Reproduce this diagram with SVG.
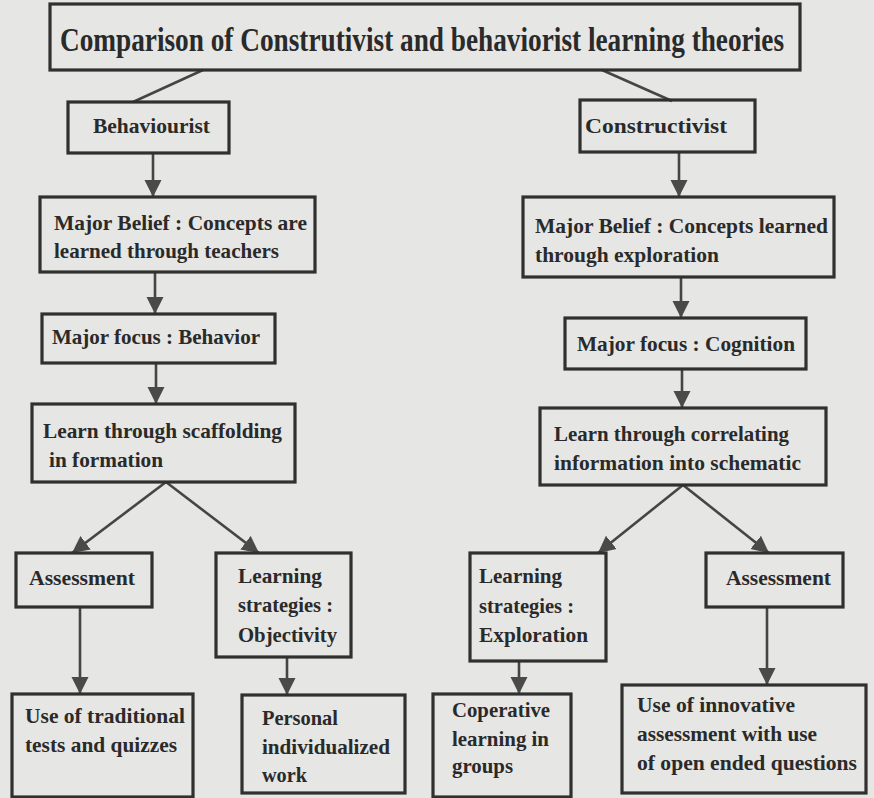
<svg xmlns="http://www.w3.org/2000/svg" width="874" height="798" viewBox="0 0 874 798">
<defs>
<marker id="ah" markerUnits="userSpaceOnUse" markerWidth="18" markerHeight="18" viewBox="0 0 18 18" refX="17" refY="9" orient="auto">
<path d="M0,0.5 L17,9 L0,17.5 Z" fill="#4a4a4a"/>
</marker>
<style>
.bg{fill:#e6e6e4}
.box{fill:none;stroke:#303030;stroke-width:3.2}
.c{fill:none;stroke:#454545;stroke-width:2.6}
.t{font-family:'Liberation Serif',serif;font-size:21px;font-weight:bold;fill:#2a2a2a}
.title{font-family:'Liberation Serif',serif;font-size:27px;font-weight:bold;fill:#2a2a2a}
</style>
</defs>
<rect class="bg" x="0" y="0" width="874" height="798"/>
<g id="connectors">
<line class="c" x1="203" y1="70" x2="133" y2="102"/>
<line class="c" x1="602" y1="70" x2="672" y2="101"/>
<line class="c" x1="153" y1="153" x2="153" y2="197" marker-end="url(#ah)"/>
<line class="c" x1="679" y1="152" x2="679" y2="197" marker-end="url(#ah)"/>
<line class="c" x1="155" y1="272" x2="155" y2="314" marker-end="url(#ah)"/>
<line class="c" x1="156" y1="363" x2="156" y2="404" marker-end="url(#ah)"/>
<line class="c" x1="681" y1="277" x2="681" y2="318" marker-end="url(#ah)"/>
<line class="c" x1="682" y1="369" x2="682" y2="408" marker-end="url(#ah)"/>
<line class="c" x1="166" y1="482" x2="72" y2="553" marker-end="url(#ah)"/>
<line class="c" x1="166" y1="482" x2="259" y2="553" marker-end="url(#ah)"/>
<line class="c" x1="683" y1="485" x2="598" y2="553" marker-end="url(#ah)"/>
<line class="c" x1="683" y1="485" x2="769" y2="553" marker-end="url(#ah)"/>
<line class="c" x1="80" y1="607" x2="80" y2="694" marker-end="url(#ah)"/>
<line class="c" x1="287" y1="657" x2="287" y2="695" marker-end="url(#ah)"/>
<line class="c" x1="519" y1="661" x2="519" y2="694" marker-end="url(#ah)"/>
<line class="c" x1="767" y1="607" x2="767" y2="685" marker-end="url(#ah)"/>
</g>
<g id="title">
<rect class="box" x="50" y="4" width="750" height="66"/>
<text class="title" transform="translate(60,51) scale(1,1.25)" x="0" y="0" textLength="724" lengthAdjust="spacingAndGlyphs">Comparison of Construtivist and behaviorist learning theories</text>
</g>
<g id="behaviourist">
<rect class="box" x="68" y="102" width="161" height="51"/>
<text class="t" x="93" y="133" textLength="117" lengthAdjust="spacingAndGlyphs">Behaviourist</text>
</g>
<g id="constructivist">
<rect class="box" x="580" y="100" width="175" height="52"/>
<text class="t" x="585" y="133" textLength="142" lengthAdjust="spacingAndGlyphs">Constructivist</text>
</g>
<g id="b-belief">
<rect class="box" x="40" y="197" width="275" height="75"/>
<text class="t" x="54" y="230" textLength="253" lengthAdjust="spacingAndGlyphs">Major Belief : Concepts are</text>
<text class="t" x="54" y="258" textLength="225" lengthAdjust="spacingAndGlyphs">learned through teachers</text>
</g>
<g id="b-focus">
<rect class="box" x="42" y="314" width="233" height="49"/>
<text class="t" x="52" y="344" textLength="208" lengthAdjust="spacingAndGlyphs">Major focus : Behavior</text>
</g>
<g id="b-learn">
<rect class="box" x="32" y="404" width="263" height="78"/>
<text class="t" x="43" y="438" textLength="239" lengthAdjust="spacingAndGlyphs">Learn through scaffolding</text>
<text class="t" x="49" y="467" textLength="114" lengthAdjust="spacingAndGlyphs">in formation</text>
</g>
<g id="c-belief">
<rect class="box" x="523" y="197" width="311" height="80"/>
<text class="t" x="535" y="233" textLength="293" lengthAdjust="spacingAndGlyphs">Major Belief : Concepts learned</text>
<text class="t" x="535" y="262" textLength="184" lengthAdjust="spacingAndGlyphs">through exploration</text>
</g>
<g id="c-focus">
<rect class="box" x="565" y="318" width="241" height="51"/>
<text class="t" x="577" y="351" textLength="218" lengthAdjust="spacingAndGlyphs">Major focus : Cognition</text>
</g>
<g id="c-learn">
<rect class="box" x="540" y="408" width="286" height="77"/>
<text class="t" x="554" y="441" textLength="235" lengthAdjust="spacingAndGlyphs">Learn through correlating</text>
<text class="t" x="554" y="470" textLength="247" lengthAdjust="spacingAndGlyphs">information into schematic</text>
</g>
<g id="b-assessment">
<rect class="box" x="16" y="553" width="136" height="54"/>
<text class="t" x="29" y="585" textLength="106" lengthAdjust="spacingAndGlyphs">Assessment</text>
</g>
<g id="b-strategies">
<rect class="box" x="216" y="553" width="135" height="104"/>
<text class="t" x="238" y="583" textLength="84" lengthAdjust="spacingAndGlyphs">Learning</text>
<text class="t" x="238" y="612" textLength="95" lengthAdjust="spacingAndGlyphs">strategies :</text>
<text class="t" x="238" y="642" textLength="99" lengthAdjust="spacingAndGlyphs">Objectivity</text>
</g>
<g id="c-strategies">
<rect class="box" x="470" y="553" width="136" height="108"/>
<text class="t" x="479" y="583" textLength="83" lengthAdjust="spacingAndGlyphs">Learning</text>
<text class="t" x="479" y="613" textLength="95" lengthAdjust="spacingAndGlyphs">strategies :</text>
<text class="t" x="479" y="642" textLength="109" lengthAdjust="spacingAndGlyphs">Exploration</text>
</g>
<g id="c-assessment">
<rect class="box" x="706" y="553" width="137" height="54"/>
<text class="t" x="726" y="585" textLength="105" lengthAdjust="spacingAndGlyphs">Assessment</text>
</g>
<g id="b-traditional">
<rect class="box" x="12" y="694" width="181" height="103"/>
<text class="t" x="25" y="723" textLength="160" lengthAdjust="spacingAndGlyphs">Use of traditional</text>
<text class="t" x="25" y="752" textLength="152" lengthAdjust="spacingAndGlyphs">tests and quizzes</text>
</g>
<g id="b-personal">
<rect class="box" x="242" y="695" width="163" height="98"/>
<text class="t" x="262" y="725" textLength="76" lengthAdjust="spacingAndGlyphs">Personal</text>
<text class="t" x="262" y="754" textLength="128" lengthAdjust="spacingAndGlyphs">individualized</text>
<text class="t" x="262" y="782" textLength="45" lengthAdjust="spacingAndGlyphs">work</text>
</g>
<g id="c-cooperative">
<rect class="box" x="433" y="694" width="138" height="103"/>
<text class="t" x="452" y="717" textLength="98" lengthAdjust="spacingAndGlyphs">Coperative</text>
<text class="t" x="452" y="746" textLength="97" lengthAdjust="spacingAndGlyphs">learning in</text>
<text class="t" x="452" y="773" textLength="61" lengthAdjust="spacingAndGlyphs">groups</text>
</g>
<g id="c-innovative">
<rect class="box" x="622" y="685" width="244" height="108"/>
<text class="t" x="637" y="712" textLength="158" lengthAdjust="spacingAndGlyphs">Use of innovative</text>
<text class="t" x="637" y="741" textLength="180" lengthAdjust="spacingAndGlyphs">assessment with use</text>
<text class="t" x="637" y="770" textLength="220" lengthAdjust="spacingAndGlyphs">of open ended questions</text>
</g>
</svg>
